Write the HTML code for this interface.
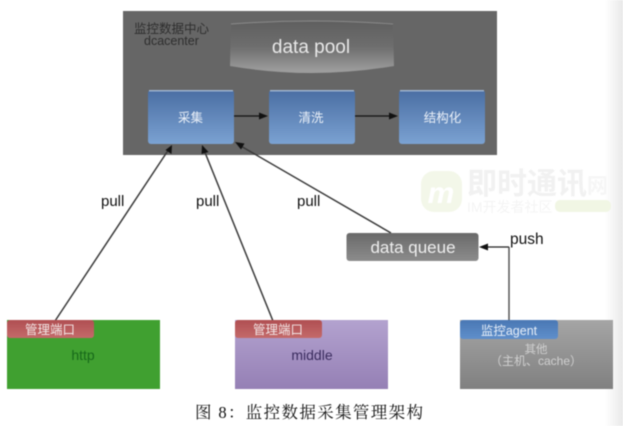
<!DOCTYPE html>
<html><head><meta charset="utf-8">
<style>
html,body{margin:0;padding:0;background:#fff;overflow:hidden}
svg{display:block;filter:blur(.45px)}
text{font-family:"Liberation Sans","Noto Sans CJK SC",sans-serif}
</style></head>
<body>
<svg width="623" height="426" viewBox="0 0 623 426" xmlns="http://www.w3.org/2000/svg">
<defs>
<linearGradient id="side" x1="0" x2="1" y1="0" y2="0"><stop offset="0" stop-color="#fff"/><stop offset="1" stop-color="#e9e9e9"/></linearGradient>
<linearGradient id="blue" x1="0" x2="0" y1="0" y2="1"><stop offset="0" stop-color="#4a6ea3"/><stop offset="1" stop-color="#7ba2d2"/></linearGradient>
<linearGradient id="pool" x1="0" x2="0" y1="0" y2="1"><stop offset="0" stop-color="#5f5f5f"/><stop offset="0.5" stop-color="#6e6e6e"/><stop offset="1" stop-color="#a0a0a0"/></linearGradient>
<linearGradient id="queue" x1="0" x2="0" y1="0" y2="1"><stop offset="0" stop-color="#6a6a6a"/><stop offset="1" stop-color="#8c8c8c"/></linearGradient>
<linearGradient id="purple" x1="0" x2="0" y1="0" y2="1"><stop offset="0" stop-color="#b3a2cf"/><stop offset="1" stop-color="#9580b5"/></linearGradient>
<linearGradient id="grey" x1="0" x2="0" y1="0" y2="1"><stop offset="0" stop-color="#a5a5a5"/><stop offset="1" stop-color="#808080"/></linearGradient>
<linearGradient id="red" x1="0" x2="0" y1="0" y2="1"><stop offset="0" stop-color="#b04f52"/><stop offset="1" stop-color="#c46a6a"/></linearGradient>
<linearGradient id="ablue" x1="0" x2="0" y1="0" y2="1"><stop offset="0" stop-color="#4a78b4"/><stop offset="1" stop-color="#5f8fcb"/></linearGradient>
</defs>

<rect x="605" y="0" width="18" height="426" fill="url(#side)"/>

<!-- watermark -->
<rect x="421" y="171" width="41" height="41" rx="13" fill="#f3f7e9"/>
<text x="441" y="203" font-size="30" font-style="italic" font-weight="bold" fill="#fff" text-anchor="middle">m</text>
<text x="467" y="194" font-size="30" font-weight="bold" fill="#f1f1f1">即时通讯</text>
<text x="587" y="193" font-size="21" font-weight="bold" fill="#f6f6f6">网</text>
<text x="467" y="212" font-size="14" fill="#f4f4f4">IM开发者社区</text>
<rect x="555" y="200" width="56" height="12" rx="5" fill="#f1f6e4"/>

<!-- dcacenter -->
<rect x="123" y="11" width="374" height="144" fill="#666666"/>
<text x="134" y="33" font-size="12.5" fill="#2e2e2e">监控数据中心</text>
<text x="144" y="45" font-size="12.500" fill="#2e2e2e">dcacenter</text>

<path d="M231 24 Q312 17 393 24 L394 66 Q312 80 230 66 Z" fill="url(#pool)"/>
<path d="M231 24 Q312 18 393 24" fill="none" stroke="#8a8a8a" stroke-width="1"/>
<text x="311" y="53" font-size="19" fill="#e8e8e8" text-anchor="middle">data pool</text>

<rect x="148" y="90" width="86" height="54" rx="3" fill="url(#blue)"/>
<rect x="269" y="90" width="86" height="54" rx="3" fill="url(#blue)"/>
<rect x="399" y="90" width="86" height="54" rx="3" fill="url(#blue)"/>
<rect x="149" y="90" width="84" height="1.500" fill="#9db3cf"/>
<rect x="270" y="90" width="84" height="1.500" fill="#9db3cf"/>
<rect x="400" y="90" width="84" height="1.500" fill="#9db3cf"/>
<text x="190.500" y="122" font-size="12.500" fill="#eaf0f8" text-anchor="middle">采集</text>
<text x="311" y="122" font-size="12.500" fill="#eaf0f8" text-anchor="middle">清洗</text>
<text x="442.500" y="122" font-size="12.500" fill="#eaf0f8" text-anchor="middle">结构化</text>

<line x1="234" y1="116" x2="262" y2="116" stroke="#111" stroke-width="1.3"/>
<polygon points="268,116 259,112.5 259,119.5" fill="#111"/>
<line x1="355" y1="116" x2="392" y2="116" stroke="#111" stroke-width="1.3"/>
<polygon points="398,116 389,112.5 389,119.5" fill="#111"/>

<!-- pull connectors -->
<line x1="55" y1="321" x2="169" y2="149" stroke="#3a3a3a" stroke-width="1.5"/>
<polygon points="172,145 171.5,154 165.5,150" fill="#111"/>
<line x1="273" y1="321" x2="204" y2="150" stroke="#3a3a3a" stroke-width="1.5"/>
<polygon points="202,145 208.5,152 201.5,154" fill="#111"/>
<line x1="391" y1="233" x2="239" y2="145" stroke="#3a3a3a" stroke-width="1.5"/>
<polygon points="235,142 244.5,143.5 241,149.5" fill="#111"/>

<text x="101" y="206" font-size="15" fill="#111">pull</text>
<text x="196" y="206" font-size="15" fill="#111">pull</text>
<text x="297" y="206" font-size="15" fill="#111">pull</text>

<!-- data queue -->
<rect x="346.500" y="233" width="132" height="28" rx="3" fill="url(#queue)"/>
<text x="413" y="253" font-size="17" fill="#eee" text-anchor="middle">data queue</text>

<!-- push -->
<line x1="509" y1="321" x2="509" y2="247" stroke="#555" stroke-width="1.5"/>
<line x1="509" y1="247" x2="484" y2="247" stroke="#222" stroke-width="1.3"/>
<polygon points="479,247 488,243.500 488,250.500" fill="#111"/>
<text x="510" y="244" font-size="15.500" fill="#111">push</text>

<!-- bottom boxes -->
<rect x="7" y="320" width="153" height="69" fill="#40a030"/>
<rect x="7" y="320" width="87" height="18" rx="3" fill="url(#red)"/>
<text x="50" y="334" font-size="12.500" fill="#f2e6e6" text-anchor="middle">管理端口</text>
<text x="83" y="360" font-size="14" fill="#17691a" text-anchor="middle">http</text>

<rect x="235" y="320" width="153" height="69" fill="url(#purple)"/>
<rect x="235" y="320" width="87" height="18" rx="3" fill="url(#red)"/>
<text x="278" y="334" font-size="12.500" fill="#f2e6e6" text-anchor="middle">管理端口</text>
<text x="312" y="360" font-size="14" fill="#3a2c5e" text-anchor="middle">middle</text>

<rect x="460" y="320" width="153" height="69" fill="url(#grey)"/>
<rect x="460" y="320" width="98" height="19" rx="3" fill="url(#ablue)"/>
<text x="509" y="335" font-size="12.500" fill="#e6eef8" text-anchor="middle">监控agent</text>
<text x="536" y="353" font-size="11.500" fill="#d0d0d0" text-anchor="middle">其他</text>
<text x="536" y="365" font-size="12" fill="#d0d0d0" text-anchor="middle">（主机、cache）</text>

<!-- caption -->
<text x="195" y="418" font-size="16.500" fill="#111" style="font-family:'Liberation Serif','Noto Serif CJK SC',serif" textLength="228" lengthAdjust="spacing">图 8：监控数据采集管理架构</text>
</svg>
</body></html>
